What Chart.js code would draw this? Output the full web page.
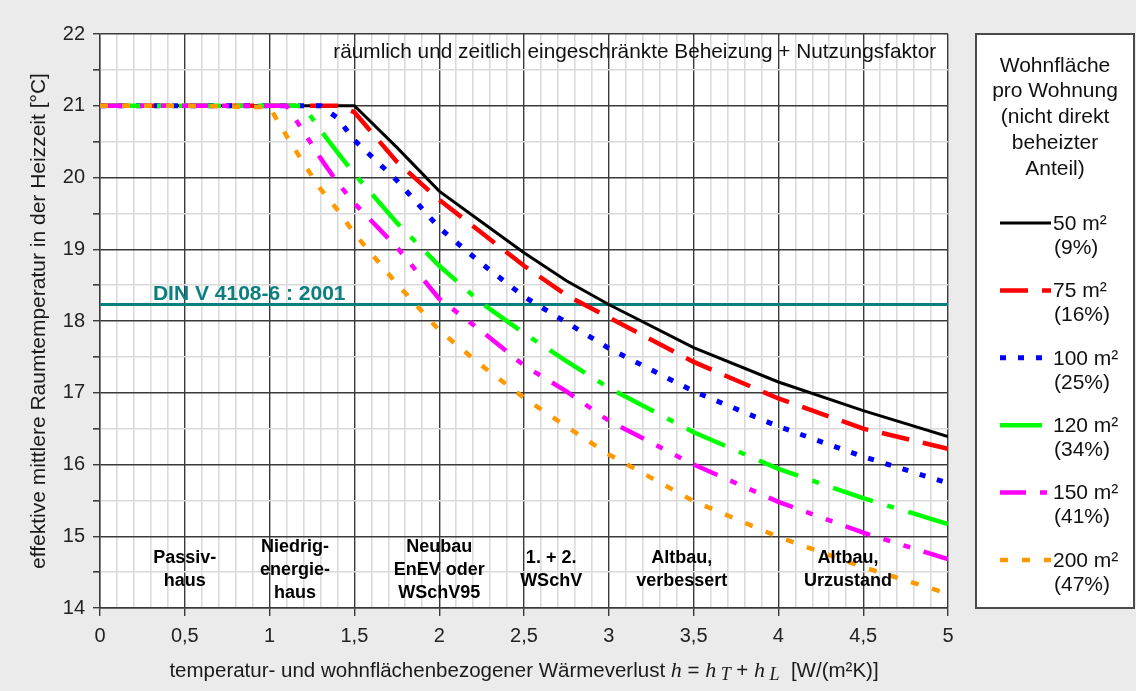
<!DOCTYPE html>
<html>
<head>
<meta charset="utf-8">
<script src="https://cdn.jsdelivr.net/npm/chart.js@4.4.1/dist/chart.umd.min.js"></script>
<style>
  html, body { margin: 0; padding: 0; background: #ebebeb; }
  canvas { display: block; }
</style>
</head>
<body>
<canvas id="heatchart" width="1136" height="691"></canvas>
<script>
// Wärmeverlust h [W/(m²K)]
const hValues = [0, 0.5, 1, 1.1, 1.2, 1.3, 1.4, 1.5, 1.75, 2, 2.25, 2.5, 2.75, 3, 3.5, 4, 4.5, 5];

// effektive Raumtemperatur [°C] je Wohnfläche
const temp50  = [21, 21, 21, 21, 21, 21, 21, 21, 20.42, 19.81, 19.38, 18.95, 18.56, 18.23, 17.63, 17.15, 16.75, 16.39];
const temp75  = [21, 21, 21, 21, 21, 21, 21, 20.91, 20.22, 19.69, 19.23, 18.77, 18.36, 18.05, 17.43, 16.92, 16.50, 16.22];
const temp100 = [21, 21, 21, 21, 21, 21, 20.83, 20.52, 19.96, 19.30, 18.80, 18.34, 17.98, 17.62, 17.02, 16.53, 16.11, 15.74];
const temp120 = [21, 21, 21, 21, 21, 20.66, 20.35, 20.05, 19.37, 18.77, 18.25, 17.83, 17.44, 17.07, 16.45, 15.94, 15.53, 15.17];
const temp150 = [21, 21, 21, 21, 20.64, 20.27, 19.93, 19.64, 19.03, 18.31, 17.86, 17.38, 17.02, 16.61, 16.00, 15.48, 15.05, 14.68];
const temp200 = [21, 21, 20.98, 20.58, 20.20, 19.84, 19.55, 19.22, 18.52, 17.87, 17.38, 16.93, 16.53, 16.14, 15.49, 14.99, 14.57, 14.20];

const seriesNames  = ['50 m²', '75 m²', '100 m²', '120 m²', '150 m²', '200 m²'];
const seriesShares = ['(9%)', '(16%)', '(25%)', '(34%)', '(41%)', '(47%)'];

// DIN V 4108-6 : 2001 Referenzwert
const dinLabel = 'DIN V 4108-6 : 2001';
const dinRange = [0, 5];
const dinValue = 18.23;

// Gebäudestandards unten im Diagramm
const zoneLabels = [
  ['Passiv-', 'haus'],
  ['Niedrig-', 'energie-', 'haus'],
  ['Neubau', 'EnEV oder', 'WSchV95'],
  ['1. + 2.', 'WSchV'],
  ['Altbau,', 'verbessert'],
  ['Altbau,', 'Urzustand']
];
const zoneCenters = [0.5, 1.15, 2.0, 2.66, 3.43, 4.41];

const legendTitle = ['Wohnfläche', 'pro Wohnung', '(nicht direkt', 'beheizter', 'Anteil)'];
const topNote = 'räumlich und zeitlich eingeschränkte Beheizung + Nutzungsfaktor';
const yTitle = 'effektive mittlere Raumtemperatur in der Heizzeit [°C]';

const temps = [temp50, temp75, temp100, temp120, temp150, temp200];
const lineStyles = [
  { color: '#000000', width: 3,   dash: [] },
  { color: '#ff0000', width: 4.5, dash: [28, 14] },
  { color: '#0000ff', width: 5,   dash: [6, 12] },
  { color: '#00ff00', width: 4.5, dash: [42, 15, 7, 15] },
  { color: '#ff00ff', width: 4.5, dash: [26, 14, 7, 14, 7, 14] },
  { color: '#ff9900', width: 4.5, dash: [8, 14] }
];

const SANS = '"Liberation Sans", Arial, sans-serif';
const SERIF = '"Liberation Serif", "Times New Roman", serif';

const isStep = (v, step) => Math.abs(v / step - Math.round(v / step)) < 1e-6;

const datasets = temps.map((t, i) => ({
  label: seriesNames[i],
  data: hValues.map((h, j) => ({ x: h, y: t[j] })),
  borderColor: lineStyles[i].color,
  borderWidth: lineStyles[i].width,
  borderDash: lineStyles[i].dash,
  borderCapStyle: 'butt',
  pointRadius: 0,
  tension: 0,
  fill: false,
  order: temps.length - i
}));
datasets.push({
  label: dinLabel,
  data: dinRange.map(h => ({ x: h, y: dinValue })),
  borderColor: '#0b7f80',
  borderWidth: 3,
  pointRadius: 0,
  fill: false,
  order: 10
});

const backgroundPlugin = {
  id: 'backgroundPlugin',
  beforeDraw(chart) {
    const { ctx, chartArea: a } = chart;
    ctx.save();
    ctx.fillStyle = '#ebebeb';
    ctx.fillRect(0, 0, chart.width, chart.height);
    ctx.fillStyle = '#ffffff';
    ctx.fillRect(a.left, a.top, a.right - a.left, a.bottom - a.top);
    ctx.restore();
  }
};

const annotationPlugin = {
  id: 'annotationPlugin',
  afterDraw(chart) {
    const { ctx } = chart;
    const xs = chart.scales.x, ys = chart.scales.y;
    ctx.save();

    // Hinweis oben rechts
    ctx.font = '20.8px ' + SANS;
    ctx.fillStyle = '#111';
    ctx.textAlign = 'right';
    ctx.textBaseline = 'middle';
    ctx.fillText(topNote, xs.getPixelForValue(4.93), ys.getPixelForValue(21.74));

    // DIN Beschriftung
    ctx.font = 'bold 21px ' + SANS;
    ctx.fillStyle = '#0b7f80';
    ctx.textAlign = 'center';
    ctx.fillText(dinLabel, xs.getPixelForValue(0.88), ys.getPixelForValue(18.37));

    // Gebäudestandards
    ctx.font = 'bold 18px ' + SANS;
    ctx.fillStyle = '#000';
    const cy = ys.getPixelForValue(14.53);
    zoneLabels.forEach((lines, i) => {
      const cx = xs.getPixelForValue(zoneCenters[i]);
      lines.forEach((txt, k) => {
        ctx.fillText(txt, cx, cy + (k - (lines.length - 1) / 2) * 23);
      });
    });

    // x-Achsentitel mit kursiven Formelzeichen
    const parts = [
      ['temperatur- und wohnflächenbezogener Wärmeverlust ', '20.5px ' + SANS, 0],
      ['h', 'italic 22px ' + SERIF, 0],
      [' = ', '20.5px ' + SANS, 0],
      ['h', 'italic 22px ' + SERIF, 0],
      [' T', 'italic 18px ' + SERIF, 3],
      [' + ', '20.5px ' + SANS, 0],
      ['h', 'italic 22px ' + SERIF, 0],
      [' L', 'italic 18px ' + SERIF, 3],
      ['  [W/(m²K)]', '20.5px ' + SANS, 0]
    ];
    let total = 0;
    parts.forEach(p => { ctx.font = p[1]; total += ctx.measureText(p[0]).width; });
    let px = 524 - total / 2;
    ctx.textAlign = 'left';
    ctx.textBaseline = 'alphabetic';
    ctx.fillStyle = '#1a1a1a';
    parts.forEach(p => {
      ctx.font = p[1];
      ctx.fillText(p[0], px, 677 + p[2]);
      px += ctx.measureText(p[0]).width;
    });

    // Legende
    const bx = 976, by = 34, bw = 158, bh = 574;
    ctx.fillStyle = '#ffffff';
    ctx.fillRect(bx, by, bw, bh);
    ctx.strokeStyle = '#4a4a4a';
    ctx.lineWidth = 2;
    ctx.strokeRect(bx, by, bw, bh);

    ctx.fillStyle = '#111';
    ctx.font = '21px ' + SANS;
    ctx.textAlign = 'center';
    ctx.textBaseline = 'middle';
    legendTitle.forEach((txt, k) => ctx.fillText(txt, 1055, 66 + k * 25.7));

    seriesNames.forEach((name, i) => {
      const ly = 223 + i * 67.4;
      const st = lineStyles[i];
      ctx.save();
      ctx.strokeStyle = st.color;
      ctx.lineWidth = st.width;
      ctx.setLineDash(st.dash);
      ctx.lineCap = 'butt';
      ctx.beginPath();
      ctx.moveTo(1000, ly);
      ctx.lineTo(1051, ly);
      ctx.stroke();
      ctx.restore();
      ctx.fillStyle = '#111';
      ctx.font = '21px ' + SANS;
      ctx.textAlign = 'left';
      ctx.fillText(name, 1053, ly + 1);
      ctx.fillText(seriesShares[i], 1054, ly + 25);
    });

    ctx.restore();
  }
};

const ctx = document.getElementById('heatchart').getContext('2d');
new Chart(ctx, {
  type: 'line',
  data: { datasets: datasets },
  options: {
    responsive: false,
    animation: false,
    events: [],
    layout: { padding: { top: 34, right: 188, left: 0, bottom: 0 } },
    plugins: {
      legend: { display: false },
      tooltip: { enabled: false }
    },
    scales: {
      x: {
        type: 'linear',
        min: 0,
        max: 5,
        afterFit: s => { s.height = 83; },
        ticks: {
          stepSize: 0.1,
          autoSkip: false,
          maxRotation: 0,
          padding: 8,
          color: '#222',
          font: { size: 20, family: SANS },
          callback: v => isStep(v, 0.5) ? String(Math.round(v * 10) / 10).replace('.', ',') : ''
        },
        grid: {
          color: c => isStep(c.tick.value, 0.5) ? '#3a3a3a' : '#dadada',
          lineWidth: c => isStep(c.tick.value, 0.5) ? 1.4 : 1.6,
          tickLength: 8,
          tickColor: c => isStep(c.tick.value, 0.5) ? '#3a3a3a' : 'rgba(0,0,0,0)'
        },
        border: { color: '#3a3a3a', width: 1.4 }
      },
      y: {
        type: 'linear',
        min: 14,
        max: 22,
        afterFit: s => { s.width = 100; },
        ticks: {
          stepSize: 0.5,
          autoSkip: false,
          padding: 8,
          color: '#222',
          font: { size: 20, family: SANS },
          callback: v => isStep(v, 1) ? String(Math.round(v)) : ''
        },
        grid: {
          color: c => isStep(c.tick.value, 1) ? '#3a3a3a' : '#dadada',
          lineWidth: c => isStep(c.tick.value, 1) ? 1.4 : 1.6,
          tickLength: 7,
          tickColor: '#3a3a3a'
        },
        border: { color: '#3a3a3a', width: 1.4 },
        title: {
          display: true,
          text: yTitle,
          color: '#1a1a1a',
          font: { size: 21, family: SANS },
          padding: { top: 27, bottom: 0 }
        }
      }
    }
  },
  plugins: [backgroundPlugin, annotationPlugin]
});
</script>
</body>
</html>
